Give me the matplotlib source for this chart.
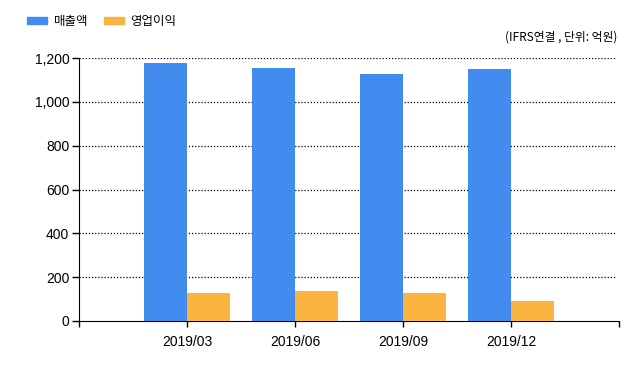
import matplotlib
matplotlib.use('Agg')
import matplotlib.pyplot as plt
from matplotlib.patches import Patch
import numpy as np

plt.rcParams['font.family'] = ['Noto Sans CJK KR', 'DejaVu Sans']

quarters = ['2019/03', '2019/06', '2019/09', '2019/12']
sales = [1178, 1154, 1127, 1150]
op_profit = [129, 137, 128, 91]
blue = '#428bef'
orange = '#fbb440'

fig = plt.figure(figsize=(6.4, 3.68), dpi=100)
ax = fig.add_axes([79 / 640, 47 / 368, 540 / 640, 263 / 368])

x = np.arange(1, len(quarters) + 1)
w = 0.4
ax.bar(x - w / 2, sales, w, color=blue, zorder=3)
ax.bar(x + w / 2, op_profit, w, color=orange, zorder=3)

ax.set_xlim(0, 5)
ax.set_ylim(0, 1200)
ax.set_yticks(range(0, 1201, 200))
ax.set_yticklabels(['{:,}'.format(v) for v in range(0, 1201, 200)],
                   fontsize=10, family='Liberation Sans')
ax.set_xticks(range(0, 6))
ax.set_xticklabels([''] + quarters + [''], fontsize=10, family='Liberation Sans')
ax.tick_params(axis='y', length=5, width=1, pad=2)
ax.tick_params(axis='x', length=4, width=1, pad=6)

for v in range(200, 1201, 200):
    ax.plot([0, 4.96], [v, v], color='black', linestyle=(0, (1, 1.5)), linewidth=0.9, zorder=1)

ax.spines['top'].set_visible(False)
ax.spines['right'].set_visible(False)

handles = [Patch(color=blue, label='매출액'), Patch(color=orange, label='영업이익')]
fig.legend(handles=handles, loc='upper left', bbox_to_anchor=(0.025, 0.99), ncol=2,
           frameon=False, fontsize=9, handlelength=1.6, handleheight=0.6,
           columnspacing=1.3, handletextpad=0.5)

fig.text(617 / 640, 1 - 37 / 368, '(IFRS연결 , 단위: 억원)', ha='right', va='center', fontsize=8.5)

fig.savefig('out.png', dpi=100)
